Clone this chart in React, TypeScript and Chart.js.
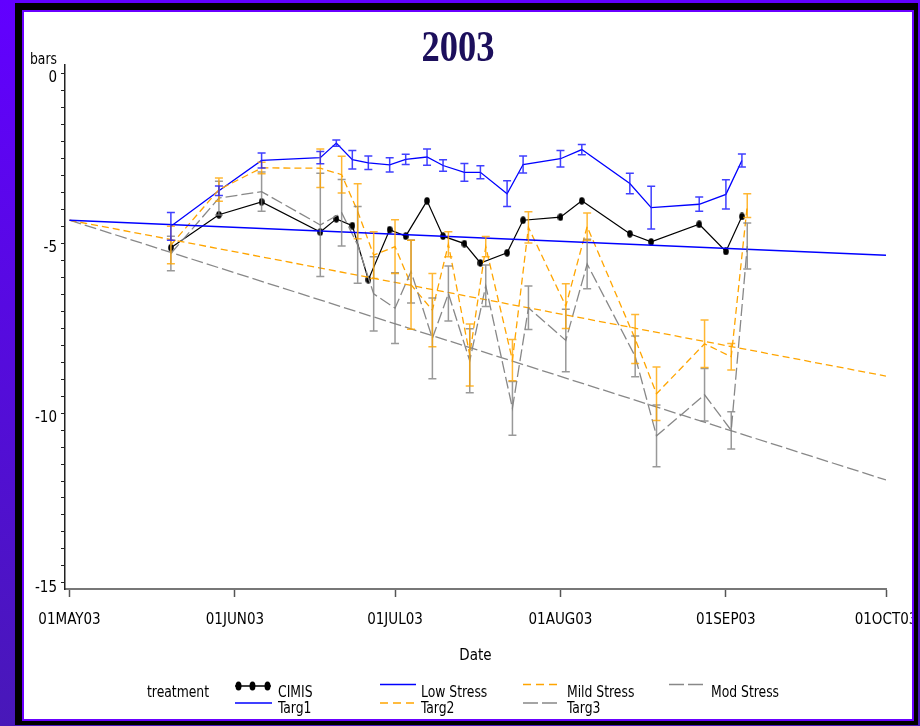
import React, { useEffect, useRef } from 'react';
import { Chart, registerables } from 'chart.js';

Chart.register(...registerables);

// ---- data -------------------------------------------------------------
const SEASON_START = Date.UTC(2003, 4, 1);
const dayOf = (d: string) =>
  (Date.UTC(+d.slice(0, 4), +d.slice(5, 7) - 1, +d.slice(8, 10)) - SEASON_START) / 86400000;

const tickDates = ['2003-05-01', '2003-06-01', '2003-07-01', '2003-08-01', '2003-09-01', '2003-10-01'];
const tickLabels = ['01MAY03', '01JUN03', '01JUL03', '01AUG03', '01SEP03', '01OCT03'];
const yLabelValues = [0, -5, -10, -15];

// CIMIS and Targ1 reading dates
const targ1Dates = [
  '2003-05-20', '2003-05-29', '2003-06-06', '2003-06-17', '2003-06-20', '2003-06-23',
  '2003-06-26', '2003-06-30', '2003-07-03', '2003-07-07', '2003-07-10', '2003-07-14',
  '2003-07-17', '2003-07-22', '2003-07-25', '2003-08-01', '2003-08-05', '2003-08-14',
  '2003-08-18', '2003-08-27', '2003-09-01', '2003-09-04',
];
// Targ2 / Targ3 reading dates
const targ23Dates = [
  '2003-05-20', '2003-05-29', '2003-06-06', '2003-06-17', '2003-06-21', '2003-06-24',
  '2003-06-27', '2003-07-01', '2003-07-04', '2003-07-08', '2003-07-11', '2003-07-15',
  '2003-07-18', '2003-07-23', '2003-07-26', '2003-08-02', '2003-08-06', '2003-08-15',
  '2003-08-19', '2003-08-28', '2003-09-02', '2003-09-05',
];

const cimis = [-5.13, -4.16, -3.78, -4.67, -4.28, -4.48, -6.07, -4.6, -4.79, -3.75, -4.79,
  -5.01, -5.58, -5.28, -4.32, -4.23, -3.75, -4.72, -4.96, -4.44, -5.24, -4.21];

const targ1 = [-4.5, -3.45, -2.56, -2.48, -2.05, -2.54, -2.63, -2.69, -2.53, -2.46, -2.71,
  -2.91, -2.91, -3.54, -2.68, -2.51, -2.24, -3.24, -3.95, -3.85, -3.56, -2.56];
const targ1Err = [0.41, 0.14, 0.22, 0.18, 0.09, 0.27, 0.2, 0.21, 0.15, 0.24, 0.17,
  0.26, 0.19, 0.38, 0.25, 0.24, 0.15, 0.3, 0.63, 0.21, 0.43, 0.19];

const targ2 = [-5.05, -3.42, -2.78, -2.79, -2.98, -4.06, -5.35, -5.1, -6.22, -6.97, -5.03,
  -8.29, -5.1, -8.44, -4.53, -6.85, -4.51, -7.82, -9.43, -7.96, -8.34, -3.89];
const targ2Err = [0.55, 0.34, 0.17, 0.57, 0.54, 0.81, 0.69, 0.79, 1.31, 1.08, 0.37,
  0.91, 0.3, 0.61, 0.46, 0.66, 0.4, 0.72, 0.79, 0.7, 0.39, 0.35];

const targ3 = [-5.3, -3.67, -3.48, -4.46, -4.1, -5.05, -6.49, -6.91, -5.83, -7.8, -6.48,
  -8.46, -6.25, -9.86, -6.9, -7.86, -5.61, -8.33, -10.67, -9.46, -10.51, -5.08];
const targ3Err = [0.51, 0.5, 0.58, 1.52, 0.98, 1.13, 1.09, 1.04, 0.93, 1.19, 0.81,
  0.94, 0.61, 0.79, 0.64, 0.92, 0.73, 0.6, 0.91, 0.77, 0.55, 0.68];

// stress target lines over the season
const targetDates = ['2003-05-01', '2003-10-01'];
const lowStress = [-4.32, -5.35];
const mildStress = [-4.32, -8.91];
const modStress = [-4.32, -11.97];

// ---- styling ----------------------------------------------------------
const FONT = "'Liberation Sans Narrow', 'DejaVu Sans Condensed', 'Arial Narrow', sans-serif";
const BLUE = '#0000ff';
const ORANGE = '#ffa500';
const GRAY = '#888888';

const pts = (dates: string[], vals: number[]) => dates.map((d, i) => ({ x: dayOf(d), y: vals[i] }));

const errorBarPlugin = {
  id: 'errorBars',
  afterDatasetsDraw(chart: any) {
    const { ctx, scales } = chart;
    const xs = scales.x;
    const ys = scales.y;
    chart.data.datasets.forEach((ds: any) => {
      if (!ds.errors) return;
      ctx.save();
      ctx.strokeStyle = ds.errorColor;
      ctx.lineWidth = 1.5;
      ctx.setLineDash([]);
      ds.data.forEach((p: any, j: number) => {
        const px = xs.getPixelForValue(p.x);
        const top = ys.getPixelForValue(p.y + ds.errors[j]);
        const bot = ys.getPixelForValue(p.y - ds.errors[j]);
        ctx.beginPath();
        ctx.moveTo(px, top);
        ctx.lineTo(px, bot);
        ctx.moveTo(px - 4, top);
        ctx.lineTo(px + 4, top);
        ctx.moveTo(px - 4, bot);
        ctx.lineTo(px + 4, bot);
        ctx.stroke();
      });
      ctx.restore();
    });
  },
};

function makeMarker() {
  const c = document.createElement('canvas');
  c.width = 6;
  c.height = 8;
  const g = c.getContext('2d')!;
  g.fillStyle = '#000';
  g.beginPath();
  g.ellipse(3, 4, 2.8, 3.8, 0, 0, Math.PI * 2);
  g.fill();
  return c;
}

export default function App() {
  const ref = useRef<HTMLCanvasElement>(null);

  useEffect(() => {
    document.body.style.margin = '0';
    const tickDays = tickDates.map(dayOf);
    const chart = new Chart(ref.current!, {
      type: 'line',
      data: {
        datasets: [
          {
            label: 'Low Stress', data: pts(targetDates, lowStress), borderColor: BLUE,
            borderWidth: 1.5, pointRadius: 0,
          },
          {
            label: 'Mild Stress', data: pts(targetDates, mildStress), borderColor: ORANGE,
            borderWidth: 1.3, borderDash: [7, 4], pointRadius: 0,
          },
          {
            label: 'Mod Stress', data: pts(targetDates, modStress), borderColor: GRAY,
            borderWidth: 1.3, borderDash: [12, 4], pointRadius: 0,
          },
          {
            label: 'Targ3', data: pts(targ23Dates, targ3), borderColor: GRAY,
            borderWidth: 1.3, borderDash: [12, 4], pointRadius: 0,
            errors: targ3Err, errorColor: 'rgba(128,128,128,0.8)',
          } as any,
          {
            label: 'Targ2', data: pts(targ23Dates, targ2), borderColor: ORANGE,
            borderWidth: 1.3, borderDash: [7, 4], pointRadius: 0,
            errors: targ2Err, errorColor: 'rgba(255,165,0,0.8)',
          } as any,
          {
            label: 'CIMIS', data: pts(targ1Dates, cimis), borderColor: '#000',
            borderWidth: 1.2, pointStyle: makeMarker(), pointRadius: 3,
          } as any,
          {
            label: 'Targ1', data: pts(targ1Dates, targ1), borderColor: BLUE,
            borderWidth: 1.3, pointRadius: 0,
            errors: targ1Err, errorColor: 'rgba(30,30,255,0.85)',
          } as any,
        ],
      },
      options: {
        animation: false,
        responsive: false,
        events: [],
        layout: { padding: { left: 0, right: 34, top: 65, bottom: 61 } },
        elements: { line: { tension: 0 } },
        plugins: { legend: { display: false }, tooltip: { enabled: false } },
        scales: {
          x: {
            type: 'linear',
            min: -0.84,
            max: dayOf('2003-10-01'),
            afterBuildTicks: (s: any) => { s.ticks = tickDays.map((v) => ({ value: v })); },
            afterFit: (s: any) => { s.height = 76; s.paddingLeft = 0; s.paddingRight = 0; },
            grid: { drawOnChartArea: false, tickLength: 8, tickColor: '#555', tickWidth: 1.5 },
            border: { display: true, color: '#777', width: 2 },
            ticks: {
              autoSkip: false, maxRotation: 0, padding: 14, color: '#000',
              font: { family: FONT, size: 15 },
              callback: (v: any) => tickLabels[tickDays.indexOf(Number(v))] ?? '',
            },
            title: {
              display: true, text: 'Date', color: '#000', padding: { top: 0, bottom: 0 },
              font: { family: FONT, size: 15 },
            },
          },
          y: {
            type: 'linear',
            min: -15.18,
            max: 0.25,
            afterBuildTicks: (s: any) => {
              const t = [];
              for (let v = -15; v <= 0.001; v += 0.5) t.push({ value: Math.round(v * 10) / 10 });
              s.ticks = t;
            },
            afterFit: (s: any) => { s.width = 65; s.paddingTop = 0; s.paddingBottom = 0; },
            grid: { drawOnChartArea: false, tickLength: 4, tickColor: '#222', tickWidth: 1 },
            border: { display: true, color: '#222', width: 1.5 },
            ticks: {
              autoSkip: false, padding: 4, labelOffset: 5, color: '#000',
              font: { family: FONT, size: 15 },
              callback: (v: any) => (yLabelValues.includes(Number(v)) ? String(v) : ''),
            },
          },
        },
      },
      plugins: [errorBarPlugin],
    } as any);
    return () => chart.destroy();
  }, []);

  const txt = (left: number, top: number, s: string) => (
    <div style={{
      position: 'absolute', left, top, fontFamily: FONT, fontSize: 16, lineHeight: '16px',
      color: '#000', whiteSpace: 'nowrap', transform: 'scaleX(0.86)', transformOrigin: 'left center',
    }}>{s}</div>
  );

  return (
    <div style={{
      position: 'absolute', left: 0, top: 0, width: 920, height: 726, overflow: 'hidden',
      background: 'linear-gradient(to bottom, #6200ff, #4818b8)',
    }}>
      <div style={{ position: 'absolute', left: 15, top: 3, width: 903, height: 722, background: '#000' }} />
      <div style={{ position: 'absolute', left: 22, top: 10, width: 892, height: 711, background: '#6a00ff' }} />
      <div style={{
        position: 'absolute', left: 24, top: 12, width: 888, height: 707, background: '#fff', overflow: 'hidden',
      }}>
        <canvas ref={ref} width={920} height={726}
          style={{ position: 'absolute', left: -24, top: -12, width: 920, height: 726 }} />
      </div>

      <div style={{
        position: 'absolute', left: 357.5, top: 25, width: 200, textAlign: 'center',
        fontFamily: "'Liberation Serif', 'DejaVu Serif', serif", fontWeight: 'bold', fontSize: 44,
        lineHeight: '44px', color: '#1c0f5c', transform: 'scaleX(0.83)', transformOrigin: 'center',
      }}>2003</div>

      {txt(30, 51, 'bars')}

      {txt(147, 684, 'treatment')}
      {txt(278, 684, 'CIMIS')}
      {txt(421, 684, 'Low Stress')}
      {txt(567, 684, 'Mild Stress')}
      {txt(711, 684, 'Mod Stress')}
      {txt(278, 700, 'Targ1')}
      {txt(421, 700, 'Targ2')}
      {txt(567, 700, 'Targ3')}

      <svg width={920} height={726} style={{ position: 'absolute', left: 0, top: 0, pointerEvents: 'none' }}>
        <line x1={235} y1={686} x2={271} y2={686} stroke="#000" strokeWidth={1.5} />
        <ellipse cx={238.5} cy={686} rx={3} ry={4.5} fill="#000" />
        <ellipse cx={252.5} cy={686} rx={3} ry={4.5} fill="#000" />
        <ellipse cx={267.5} cy={686} rx={3} ry={4.5} fill="#000" />
        <line x1={380} y1={684.5} x2={416} y2={684.5} stroke={BLUE} strokeWidth={1.5} />
        <line x1={523} y1={684.5} x2={560} y2={684.5} stroke={ORANGE} strokeWidth={1.5} strokeDasharray="8 5" />
        <line x1={669} y1={684.5} x2={704} y2={684.5} stroke={GRAY} strokeWidth={1.5} strokeDasharray="15 4" />
        <line x1={235} y1={703} x2={272} y2={703} stroke={BLUE} strokeWidth={1.5} />
        <line x1={380} y1={703} x2={416} y2={703} stroke={ORANGE} strokeWidth={1.5} strokeDasharray="8 5" />
        <line x1={523} y1={703} x2={560} y2={703} stroke={GRAY} strokeWidth={1.5} strokeDasharray="15 4" />
      </svg>
    </div>
  );
}
